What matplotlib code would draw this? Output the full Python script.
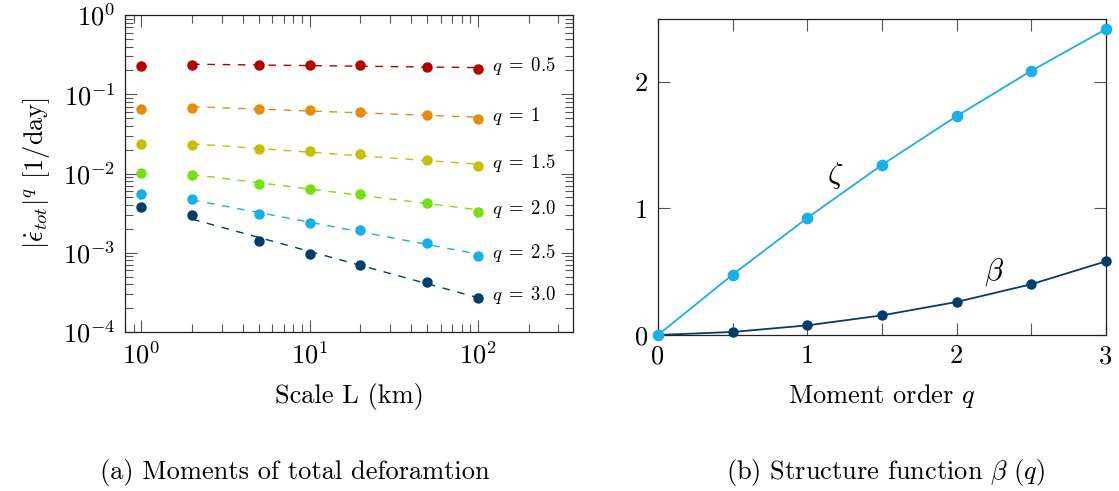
import numpy as np
import matplotlib
matplotlib.use("Agg")
import matplotlib.pyplot as plt
from matplotlib.ticker import LogLocator, FixedLocator, NullFormatter, FixedFormatter

plt.rcParams['font.family'] = 'serif'
plt.rcParams['font.serif'] = ['cmr10', 'DejaVu Serif']
plt.rcParams['mathtext.fontset'] = 'cm'
plt.rcParams['axes.formatter.use_mathtext'] = True
plt.rcParams['axes.unicode_minus'] = False

# ---------------- data ----------------
scales = [1, 2, 5, 10, 20, 50, 100]
q_labels = ['0.5', '1', '1.5', '2.0', '2.5', '3.0']
mom_q05 = [0.229, 0.233, 0.235, 0.235, 0.231, 0.222, 0.211]
mom_q10 = [0.0659, 0.0671, 0.0652, 0.0633, 0.0604, 0.0547, 0.0492]
mom_q15 = [0.0233, 0.0228, 0.0205, 0.0192, 0.0177, 0.0147, 0.0124]
mom_q20 = [0.0101, 0.00953, 0.00747, 0.00646, 0.00558, 0.0043, 0.0033]
mom_q25 = [0.00547, 0.00473, 0.00305, 0.0024, 0.00194, 0.00132, 0.000916]
mom_q30 = [0.00382, 0.0030, 0.00139, 0.000953, 0.000705, 0.00043, 0.000272]
moments = [mom_q05, mom_q10, mom_q15, mom_q20, mom_q25, mom_q30]
colors = ['#B40000', '#E68C0A', '#C8BE00', '#74E00E', '#14B0E8', '#003D6B']

q_order = [0, 0.5, 1, 1.5, 2, 2.5, 3]
zeta = [0.0, 0.477, 0.925, 1.344, 1.729, 2.087, 2.416]
beta = [0.0, 0.024, 0.076, 0.155, 0.261, 0.401, 0.582]
zeta_color = '#1AAFE6'
beta_color = '#003D6B'

fs = 19
fig = plt.figure(figsize=(11.19, 4.91), dpi=100)

# ---------------- left panel ----------------
ax1 = fig.add_axes([125/1119, 1-332/491, 448/1119, 317/491])
ax1.set_xscale('log')
ax1.set_yscale('log')
x = np.array(scales, dtype=float)
for vals, col, lab in zip(moments, colors, q_labels):
    y = np.array(vals)
    ax1.plot(x, y, 'o', color=col, ms=6.5, zorder=3)
    sel = x >= 2
    p = np.polyfit(np.log10(x[sel]), np.log10(y[sel]), 1)
    xf = x[sel]
    ax1.plot(xf, 10**np.polyval(p, np.log10(xf)), color=col, lw=1.0,
             linestyle=(0, (5.5, 5.5)), zorder=2)
    ax1.annotate(r'$q\;=\;%s$' % lab, xy=(x[-1], y[-1]), xytext=(10, 2),
                 textcoords='offset points', va='center', ha='left',
                 fontsize=13.5)
ax1.set_xlim(0.80, 366)
ax1.set_ylim(1e-4, 1)
ax1.xaxis.set_major_locator(FixedLocator([1, 10, 100]))
ax1.xaxis.set_minor_locator(LogLocator(base=10, subs=np.arange(2, 10), numticks=20))
ax1.xaxis.set_minor_formatter(NullFormatter())
ax1.yaxis.set_major_locator(FixedLocator([1e-4, 1e-3, 1e-2, 1e-1, 1]))
ax1.yaxis.set_minor_locator(LogLocator(base=10, subs=np.arange(2, 10), numticks=20))
ax1.yaxis.set_minor_formatter(NullFormatter())
ax1.set_xlabel('Scale L (km)', fontsize=fs, labelpad=10)
ax1.set_ylabel(r'$|\dot{\epsilon}_{tot}|^q$ [1/day]', fontsize=fs, labelpad=8)

# ---------------- right panel ----------------
ax2 = fig.add_axes([658/1119, 1-335/491, 448/1119, 316/491])
ax2.plot(q_order, beta, '-o', color=beta_color, lw=1.3, ms=6.5, zorder=3)
ax2.plot(q_order, zeta, '-o', color=zeta_color, lw=1.3, ms=7.4, zorder=4)
ax2.set_xlim(0, 3)
ax2.set_ylim(0, 2.496)
ax2.xaxis.set_major_locator(FixedLocator([0, 0.5, 1, 1.5, 2, 2.5, 3]))
ax2.xaxis.set_major_formatter(FixedFormatter(['0', '', '1', '', '2', '', '3']))
ax2.yaxis.set_major_locator(FixedLocator([0, 1, 2]))
ax2.yaxis.set_major_formatter(FixedFormatter(['0', '1', '2']))
ax2.text(1.19, 1.26, r'$\zeta$', fontsize=22, ha='center', va='center')
ax2.text(2.25, 0.50, r'$\beta$', fontsize=22, ha='center', va='center')
ax2.set_xlabel(r'Moment order $q$', fontsize=fs, labelpad=10)

for ax in (ax1, ax2):
    ax.tick_params(which='both', direction='in', top=True, right=True,
                   labelsize=fs, color='#555555', width=0.8)
    ax.tick_params(which='major', length=8.3, pad=7)
    ax.tick_params(which='minor', length=5.5)
    for s in ax.spines.values():
        s.set_linewidth(0.9)
        s.set_color('#222222')
for ln in ax2.lines:
    ln.set_clip_on(False)

# captions
fig.text(295/1119, 1-473/491, '(a) Moments of total deforamtion', fontsize=fs,
         ha='center', va='center')
fig.text(885/1119, 1-473/491, r'(b) Structure function $\beta\ (q)$', fontsize=fs,
         ha='center', va='center')

fig.savefig('out.png', dpi=100)
